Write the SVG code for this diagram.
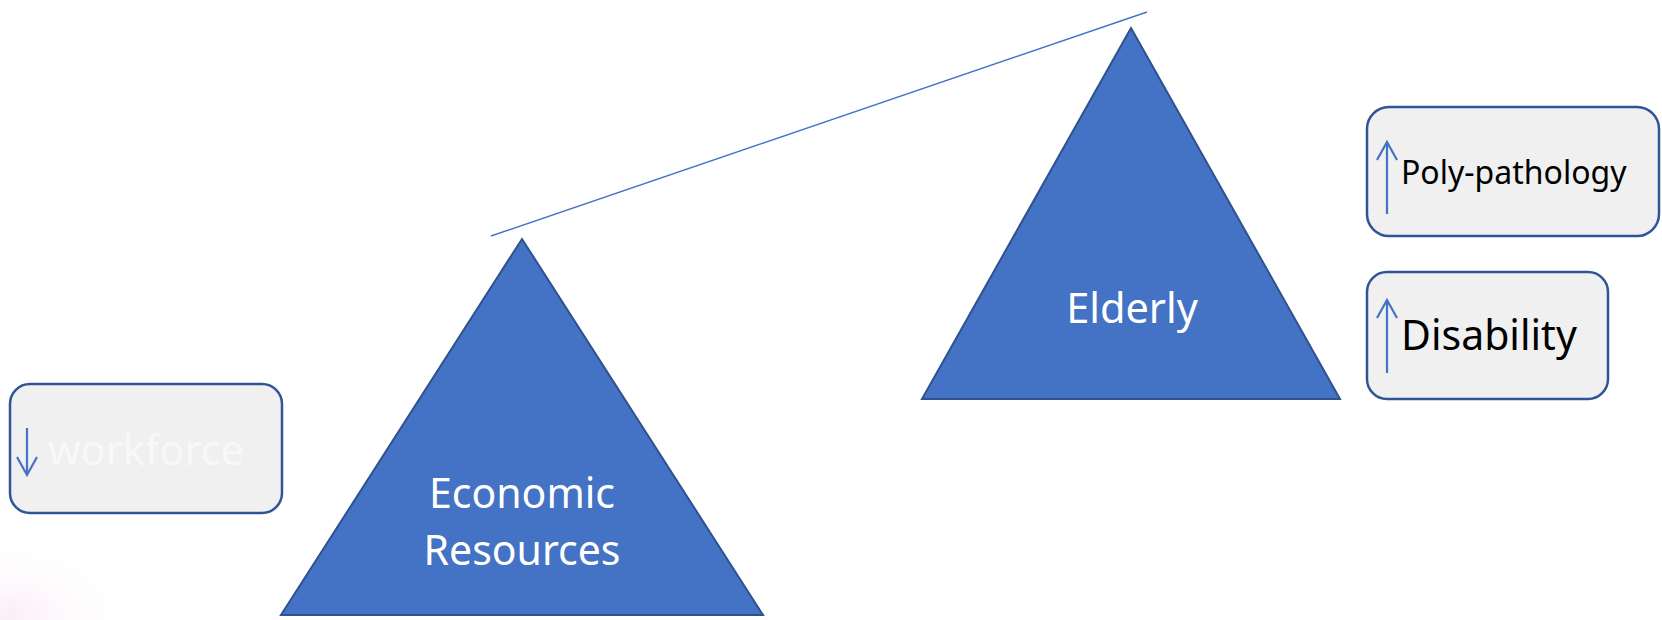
<svg xmlns="http://www.w3.org/2000/svg" width="1662" height="620" viewBox="0 0 1662 620">
<style>
.tri{fill:#4472C4;stroke:#2F528F;stroke-width:2;stroke-linejoin:miter}
.box{fill:#F0F0F0;stroke:#2F5597;stroke-width:2.5}
.arr{fill:none;stroke:#4472C4;stroke-width:2.2}
.wt{font-family:"Noto Sans","Open Sans",sans-serif;fill:#FFFFFF}
.bt{font-family:"Noto Sans","Open Sans",sans-serif;fill:#000000}
</style>
<defs>
<radialGradient id="glow" cx="0.5" cy="0.5" r="0.5">
<stop offset="0" stop-color="#F8E2F2" stop-opacity="0.6"/>
<stop offset="1" stop-color="#FFFFFF" stop-opacity="0"/>
</radialGradient>
</defs>
<rect width="1662" height="620" fill="#FFFFFF"/>
<ellipse cx="10" cy="615" rx="130" ry="80" fill="url(#glow)"/>
<g id="connectors">
<line x1="491" y1="236" x2="1147" y2="12" stroke="#4472C4" stroke-width="1.4"/>
</g>
<g id="economic">
<polygon class="tri" points="522,239 763,615 281,615"/>
<text class="wt" x="522" y="508" font-size="41" text-anchor="middle">Economic</text>
<text class="wt" x="522" y="565" font-size="41" text-anchor="middle">Resources</text>
</g>
<g id="elderly">
<polygon class="tri" points="1131,28 1340,399 922,399"/>
<text class="wt" x="1132" y="323" font-size="41.5" text-anchor="middle">Elderly</text>
</g>
<g id="workforce">
<rect class="box" x="10" y="384" width="272" height="129" rx="20"/>
<path class="arr" d="M27,428 V475 M17,457 L27,475 L37,457"/>
<text x="48" y="465" font-size="41.5" font-family="Noto Sans, Open Sans, sans-serif" fill="#F8F8F8">workforce</text>
</g>
<g id="polypathology">
<rect class="box" x="1367" y="107" width="292" height="129" rx="22"/>
<path class="arr" d="M1387,214 V142 M1377,160 L1387,142 L1397,160"/>
<text class="bt" x="1401" y="184" font-size="32">Poly-pathology</text>
</g>
<g id="disability">
<rect class="box" x="1367" y="272" width="241" height="127" rx="20"/>
<path class="arr" d="M1387,373 V300 M1377,318 L1387,300 L1397,318"/>
<text class="bt" x="1401" y="350" font-size="41">Disability</text>
</g>
</svg>
